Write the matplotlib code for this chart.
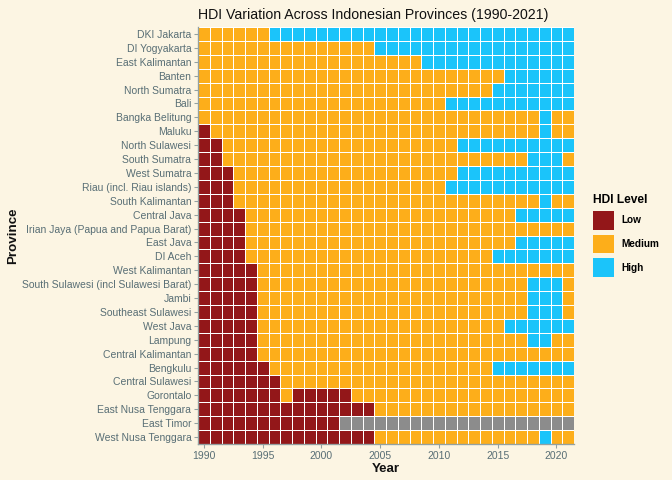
import numpy as np
import matplotlib
matplotlib.use('Agg')
import matplotlib.pyplot as plt
from matplotlib.colors import ListedColormap
from matplotlib.patches import Patch

plt.rcParams['font.family'] = ['Liberation Sans', 'DejaVu Sans']

# years on the x axis
years = list(range(1990, 2022))

# provinces, top to bottom
provinces = [
    'DKI Jakarta', 'DI Yogyakarta', 'East Kalimantan', 'Banten', 'North Sumatra',
    'Bali', 'Bangka Belitung', 'Maluku', 'North Sulawesi', 'South Sumatra',
    'West Sumatra', 'Riau (incl. Riau islands)', 'South Kalimantan', 'Central Java',
    'Irian Jaya (Papua and Papua Barat)', 'East Java', 'DI Aceh', 'West Kalimantan',
    'South Sulawesi (incl Sulawesi Barat)', 'Jambi', 'Southeast Sulawesi', 'West Java',
    'Lampung', 'Central Kalimantan', 'Bengkulu', 'Central Sulawesi', 'Gorontalo',
    'East Nusa Tenggara', 'East Timor', 'West Nusa Tenggara',
]

# HDI level per year, grouped in 5 years (L = Low, M = Medium, H = High, N = no data)
hdi_levels = [
    "MMMMM MHHHH HHHHH HHHHH HHHHH HHHHH HH",  # DKI Jakarta
    "MMMMM MMMMM MMMMM HHHHH HHHHH HHHHH HH",  # DI Yogyakarta
    "MMMMM MMMMM MMMMM MMMMH HHHHH HHHHH HH",  # East Kalimantan
    "MMMMM MMMMM MMMMM MMMMM MMMMM MHHHH HH",  # Banten
    "MMMMM MMMMM MMMMM MMMMM MMMMM HHHHH HH",  # North Sumatra
    "MMMMM MMMMM MMMMM MMMMM MHHHH HHHHH HH",  # Bali
    "MMMMM MMMMM MMMMM MMMMM MMMMM MMMMH MM",  # Bangka Belitung
    "LMMMM MMMMM MMMMM MMMMM MMMMM MMMMH MM",  # Maluku
    "LLMMM MMMMM MMMMM MMMMM MMHHH HHHHH HH",  # North Sulawesi
    "LLMMM MMMMM MMMMM MMMMM MMMMM MMMHH HM",  # South Sumatra
    "LLLMM MMMMM MMMMM MMMMM MMHHH HHHHH HH",  # West Sumatra
    "LLLMM MMMMM MMMMM MMMMM MHHHH HHHHH HH",  # Riau
    "LLLMM MMMMM MMMMM MMMMM MMMMM MMMMH MM",  # South Kalimantan
    "LLLLM MMMMM MMMMM MMMMM MMMMM MMHHH HH",  # Central Java
    "LLLLM MMMMM MMMMM MMMMM MMMMM MMMMM MM",  # Irian Jaya
    "LLLLM MMMMM MMMMM MMMMM MMMMM MMHHH HH",  # East Java
    "LLLLM MMMMM MMMMM MMMMM MMMMM HHHHH HH",  # DI Aceh
    "LLLLL MMMMM MMMMM MMMMM MMMMM MMMMM MM",  # West Kalimantan
    "LLLLL MMMMM MMMMM MMMMM MMMMM MMMHH HM",  # South Sulawesi
    "LLLLL MMMMM MMMMM MMMMM MMMMM MMMHH HM",  # Jambi
    "LLLLL MMMMM MMMMM MMMMM MMMMM MMMHH HM",  # Southeast Sulawesi
    "LLLLL MMMMM MMMMM MMMMM MMMMM MHHHH HH",  # West Java
    "LLLLL MMMMM MMMMM MMMMM MMMMM MMMHH MM",  # Lampung
    "LLLLL MMMMM MMMMM MMMMM MMMMM MMMMM MM",  # Central Kalimantan
    "LLLLL LMMMM MMMMM MMMMM MMMMM HHHHH HH",  # Bengkulu
    "LLLLL LLMMM MMMMM MMMMM MMMMM MMMMM MM",  # Central Sulawesi
    "LLLLL LLMLL LLLMM MMMMM MMMMM MMMMM MM",  # Gorontalo
    "LLLLL LLLLL LLLLL MMMMM MMMMM MMMMM MM",  # East Nusa Tenggara
    "LLLLL LLLLL LLNNN NNNNN NNNNN NNNNN NN",  # East Timor
    "LLLLL LLLLL LLLLL MMMMM MMMMM MMMMH MM",  # West Nusa Tenggara
]

level_names = ['Low', 'Medium', 'High']
level_colors = ['#931719', '#fdae1a', '#1bc4fa']
na_color = '#8c8c8c'
bg = '#fcf5e3'

code = {'L': 0, 'M': 1, 'H': 2, 'N': 3}
grid = np.array([[code[c] for c in row.replace(' ', '')] for row in hdi_levels])

fig = plt.figure(figsize=(7, 5), dpi=96, facecolor=bg)
ax = fig.add_axes([198 / 672, 36 / 480, 376 / 672, 417 / 480])
ax.set_facecolor(bg)

cmap = ListedColormap(level_colors + [na_color])
x_edges = np.arange(years[0] - 0.5, years[-1] + 1.5)
y_edges = np.arange(len(provinces) + 1) - 0.5
ax.pcolormesh(x_edges, y_edges, grid, cmap=cmap, vmin=-0.5, vmax=3.5,
              edgecolors='white', linewidth=0.55)

ax.set_xlim(x_edges[0], x_edges[-1])
ax.set_ylim(y_edges[-1], y_edges[0])

ax.set_yticks(range(len(provinces)))
ax.set_yticklabels(provinces)
ax.set_xticks(range(1990, 2021, 5))

for side in ['top', 'right']:
    ax.spines[side].set_visible(False)
for side in ['left', 'bottom']:
    ax.spines[side].set_color('#93a1a1')
    ax.spines[side].set_linewidth(1.0)
ax.tick_params(colors='#93a1a1', labelcolor='#586e75', labelsize=7.8,
               length=3, width=0.8, pad=2)

ax.set_xlabel('Year', fontsize=10, fontweight='bold', color='#111111', labelpad=2)
ax.set_ylabel('Province', fontsize=10, fontweight='bold', color='#111111', labelpad=2)
ax.set_title('HDI Variation Across Indonesian Provinces (1990-2021)',
             fontsize=10.6, color='#111111', pad=6, loc='left')

handles = [Patch(facecolor=c, edgecolor='none') for c in level_colors]
leg = fig.legend(handles, level_names, loc='upper left',
                 bbox_to_anchor=(589 / 672, 1 - 190 / 480), frameon=False,
                 title='HDI Level', handlelength=2.1, handleheight=2.5,
                 labelspacing=0.5, handletextpad=0.7, borderaxespad=0,
                 prop={'weight': 'bold', 'size': 7.5},
                 title_fontproperties={'weight': 'bold', 'size': 9})
leg._legend_box.align = 'left'

fig.savefig('out.png', dpi=96, facecolor=bg)
